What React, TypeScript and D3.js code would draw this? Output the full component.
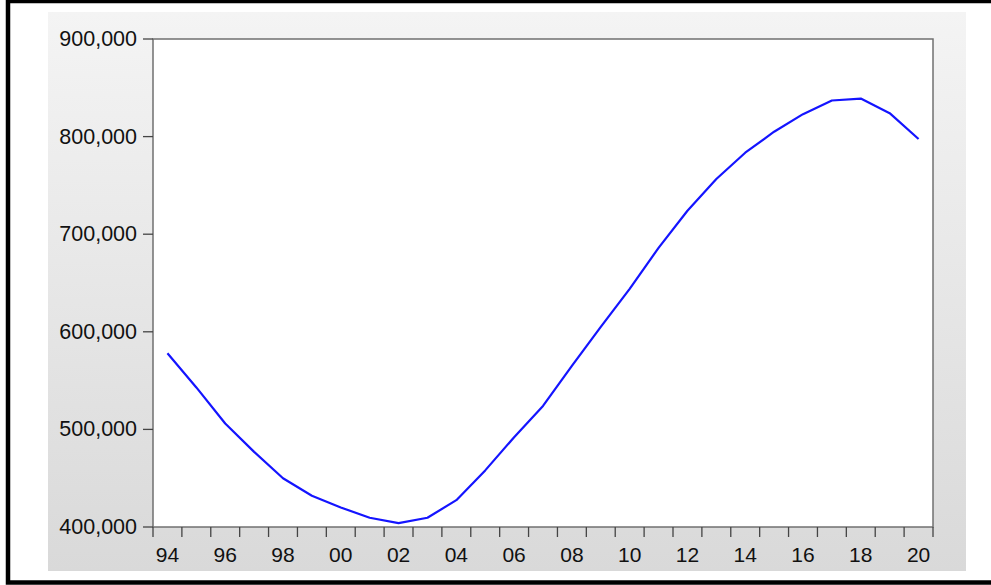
import * as d3 from 'd3'
import { useEffect, useRef } from 'react'

// annual series
const years = [1994, 1995, 1996, 1997, 1998, 1999, 2000, 2001, 2002, 2003, 2004, 2005, 2006, 2007,
    2008, 2009, 2010, 2011, 2012, 2013, 2014, 2015, 2016, 2017, 2018, 2019, 2020]
const values = [578000, 543000, 506000, 477000, 450000, 432000, 420000, 409500, 404000, 409500,
    427500, 458000, 492000, 524000, 565000, 605000, 644000, 686000, 724000, 756500, 783500,
    805000, 823000, 837000, 839000, 824000, 797500]
const yTicks = [400000, 500000, 600000, 700000, 800000, 900000]
const xLabelYears = [1994, 1996, 1998, 2000, 2002, 2004, 2006, 2008, 2010, 2012, 2014, 2016, 2018, 2020]

const width = 991
const height = 585

export default function App() {
    const svgRef = useRef(null)

    useEffect(() => {
        const svg = d3.select(svgRef.current)
        svg.selectAll('*').remove()

        const plot = { left: 153, right: 933, top: 39, bottom: 527 }

        const x = d3.scaleLinear()
            .domain([1994, 2021])
            .range([plot.left, plot.right])
        const y = d3.scaleLinear()
            .domain([400000, 900000])
            .range([plot.bottom, plot.top])

        // gray gradient panel behind the plot
        const defs = svg.append('defs')
        const grad = defs.append('linearGradient')
            .attr('id', 'bg')
            .attr('x1', 0).attr('y1', 0).attr('x2', 0).attr('y2', 1)
        grad.append('stop').attr('offset', '0%').attr('stop-color', '#f4f4f4')
        grad.append('stop').attr('offset', '100%').attr('stop-color', '#d9d9d9')

        svg.append('rect')
            .attr('x', 48).attr('y', 12)
            .attr('width', 966 - 48).attr('height', 571 - 12)
            .attr('fill', 'url(#bg)')

        svg.append('rect')
            .attr('x', plot.left).attr('y', plot.top)
            .attr('width', plot.right - plot.left).attr('height', plot.bottom - plot.top)
            .attr('fill', '#ffffff')
            .attr('stroke', '#707070')
            .attr('stroke-width', 1.5)

        const font = '"Liberation Sans", Arial, sans-serif'

        // y axis ticks + labels
        const fmt = d3.format(',')
        const yAxis = svg.append('g')
        yAxis.selectAll('line')
            .data(yTicks)
            .join('line')
            .attr('x1', plot.left - 10).attr('x2', plot.left)
            .attr('y1', d => y(d)).attr('y2', d => y(d))
            .attr('stroke', '#444')
            .attr('stroke-width', 1.3)
        yAxis.selectAll('text')
            .data(yTicks)
            .join('text')
            .attr('x', plot.left - 16)
            .attr('y', d => y(d))
            .attr('dy', '0.33em')
            .attr('text-anchor', 'end')
            .attr('font-family', font)
            .attr('font-size', 21.5)
            .attr('fill', '#111')
            .text(d => fmt(d))

        // x axis: a tick at every year boundary, labels centered on even years
        const xAxis = svg.append('g')
        xAxis.selectAll('line')
            .data(d3.range(1994, 2022))
            .join('line')
            .attr('x1', d => x(d)).attr('x2', d => x(d))
            .attr('y1', plot.bottom).attr('y2', plot.bottom + 10)
            .attr('stroke', '#444')
            .attr('stroke-width', 1.3)
        xAxis.selectAll('text')
            .data(xLabelYears)
            .join('text')
            .attr('x', d => x(d + 0.5))
            .attr('y', 562)
            .attr('text-anchor', 'middle')
            .attr('font-family', font)
            .attr('font-size', 21)
            .attr('fill', '#111')
            .text(d => String(d % 100).padStart(2, '0'))

        const line = d3.line()
            .x((_, i) => x(years[i] + 0.5))
            .y(d => y(d))

        svg.append('path')
            .datum(values)
            .attr('d', line)
            .attr('fill', 'none')
            .attr('stroke', '#1414ff')
            .attr('stroke-width', 2.2)
            .attr('stroke-linejoin', 'round')

        // black outer frame (right edge runs off the picture)
        svg.append('rect')
            .attr('x', 8).attr('y', 1)
            .attr('width', 1000).attr('height', 581.5)
            .attr('fill', 'none')
            .attr('stroke', '#000')
            .attr('stroke-width', 4.5)
    }, [])

    return (
        <div style={{ position: 'absolute', left: 0, top: 0 }}>
            <svg ref={svgRef} width={width} height={height} style={{ display: 'block', background: '#fff' }}></svg>
        </div>
    )
}
